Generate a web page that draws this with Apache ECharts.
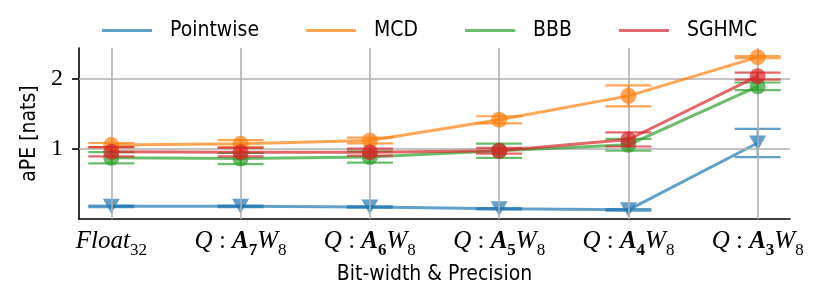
<!DOCTYPE html>
<html><head><meta charset="utf-8">
<script src="https://cdn.jsdelivr.net/npm/echarts@6/dist/echarts.min.js"></script>
<style>html,body{margin:0;padding:0;background:#fff}#c{width:830px;height:291px}</style>
</head><body><div id="c"></div>
<script>
// ---- data ----
const categories = ['Float_32', 'Q:A_7W_8', 'Q:A_6W_8', 'Q:A_5W_8', 'Q:A_4W_8', 'Q:A_3W_8'];
const seriesNames = ['Pointwise', 'MCD', 'BBB', 'SGHMC'];
const pointwise    = [0.18, 0.18, 0.17, 0.145, 0.13, 1.08];
const pointwiseErr = [0.01, 0.01, 0.01, 0.01, 0.01, 0.20];
const mcd          = [1.05, 1.07, 1.115, 1.41, 1.75, 2.30];
const mcdErr       = [0.03, 0.05, 0.04, 0.05, 0.15, 0.015];
const bbb          = [0.87, 0.86, 0.88, 0.97, 1.055, 1.885];
const bbbErr       = [0.08, 0.08, 0.08, 0.10, 0.085, 0.055];
const sghmc        = [0.955, 0.95, 0.95, 0.97, 1.13, 2.03];
const sghmcErr     = [0.065, 0.06, 0.05, 0.04, 0.10, 0.05];
const yTicks = [1, 2];

const colors = ['rgba(31,119,180,0.7)', 'rgba(255,127,14,0.7)', 'rgba(44,160,44,0.7)', 'rgba(214,39,40,0.7)'];
const means = [pointwise, mcd, bbb, sghmc];
const errs = [pointwiseErr, mcdErr, bbbErr, sghmcErr];
const symbols = ['triangle', 'circle', 'circle', 'circle'];
const SANS = 'DejaVu Sans Condensed, DejaVu Sans';

function fmtCat(v) {
  const i = Math.round(v);
  const c = categories[i];
  if (c === undefined || Math.abs(v - i) > 1e-6) return '';
  let m = c.match(/^Float_(\d+)$/);
  if (m) return '{it|Float}{sub|' + m[1] + '}';
  m = c.match(/^Q:A_(\d+)W_(\d+)$/);
  if (m) return '{it|Q}{rm| : }{bi|A}{bsub|' + m[1] + '}{it|W}{sub|' + m[2] + '}';
  return c;
}

const series = [];
// gridlines (drawn beneath)
series.push({
  type: 'line', data: [], silent: true, z: 1,
  markLine: {
    silent: true, symbol: 'none', animation: false,
    label: { show: false },
    lineStyle: { color: '#b0b0b0', width: 1.6, type: 'solid' },
    data: yTicks.map(v => ({ yAxis: v })).concat(categories.map((c, i) => ({ xAxis: i })))
  }
});
means.forEach((arr, k) => {
  series.push({
    name: seriesNames[k], type: 'line', z: 3 + k * 2,
    data: arr.map((v, i) => [i, v]),
    symbol: symbols[k], symbolRotate: k === 0 ? 180 : 0,
    symbolSize: k === 0 ? [17, 15] : 16,
    showSymbol: true,
    lineStyle: { color: colors[k], width: 3 },
    itemStyle: { color: colors[k] },
    emphasis: { disabled: true }
  });
  series.push({
    type: 'custom', name: '_err' + k, z: 3 + k * 2,
    data: arr.map((v, i) => [i, v - errs[k][i], v + errs[k][i]]),
    renderItem: function (params, api) {
      const lo = api.coord([api.value(0), api.value(1)]);
      const hi = api.coord([api.value(0), api.value(2)]);
      const hw = 23;
      const st = { stroke: colors[k], lineWidth: 2.2, fill: null };
      return { type: 'group', children: [
        { type: 'line', shape: { x1: lo[0], y1: lo[1], x2: hi[0], y2: hi[1] }, style: st },
        { type: 'line', shape: { x1: lo[0] - hw, y1: lo[1], x2: lo[0] + hw, y2: lo[1] }, style: st },
        { type: 'line', shape: { x1: hi[0] - hw, y1: hi[1], x2: hi[0] + hw, y2: hi[1] }, style: st }
      ]};
    }
  });
});

const chart = echarts.init(document.getElementById('c'), null, { renderer: 'canvas' });
chart.setOption({
  animation: false,
  backgroundColor: '#fff',
  grid: { left: 79, right: 40, top: 48, bottom: 72, containLabel: false, outerBoundsMode: 'none' },
  legend: {
    data: seriesNames.map((n, k) => ({ name: n, icon: 'rect', itemStyle: { color: colors[k] } })),
    left: 102, top: 20, padding: 0, itemWidth: 50, itemHeight: 3, itemGap: 47,
    textStyle: { fontFamily: SANS, fontSize: 21, color: '#000', padding: [0, 0, 0, 13] }
  },
  xAxis: {
    type: 'value', min: -0.25, max: 5.25,
    name: 'Bit-width & Precision', nameLocation: 'middle', nameGap: 42,
    nameTextStyle: { fontFamily: SANS, fontSize: 21, color: '#000' },
    axisLine: { show: true, onZero: false, lineStyle: { color: '#000', width: 1.6 } },
    axisTick: { show: false },
    splitLine: { show: false },
    axisLabel: {
      customValues: categories.map((c, i) => i),
      formatter: fmtCat, margin: 10, color: '#000',
      rich: {
        it: { fontFamily: 'Liberation Serif', fontStyle: 'italic', fontSize: 25, color: '#000', verticalAlign: 'bottom', padding: [0, 0, 5, 0] },
        rm: { fontFamily: 'Liberation Serif', fontSize: 25, color: '#000', verticalAlign: 'bottom', padding: [0, 0, 5, 0] },
        bi: { fontFamily: 'Liberation Serif', fontStyle: 'italic', fontWeight: 'bold', fontSize: 25, color: '#000', verticalAlign: 'bottom', padding: [0, 0, 5, 0] },
        sub: { fontFamily: 'Liberation Serif', fontSize: 17, color: '#000', verticalAlign: 'bottom' },
        bsub: { fontFamily: 'Liberation Serif', fontWeight: 'bold', fontSize: 17, color: '#000', verticalAlign: 'bottom' }
      }
    }
  },
  yAxis: {
    type: 'value', min: 0, max: 2.43,
    name: 'aPE [nats]', nameLocation: 'middle', nameGap: 39,
    nameTextStyle: { fontFamily: SANS, fontSize: 21, color: '#000' },
    axisLine: { show: true, onZero: false, lineStyle: { color: '#000', width: 1.6 } },
    axisTick: { show: true, customValues: yTicks, length: 7, lineStyle: { color: '#000', width: 1.6 } },
    splitLine: { show: false },
    axisLabel: { customValues: yTicks, margin: 16, color: '#000', fontFamily: 'Liberation Serif', fontSize: 24 }
  },
  series: series
});
</script></body></html>
